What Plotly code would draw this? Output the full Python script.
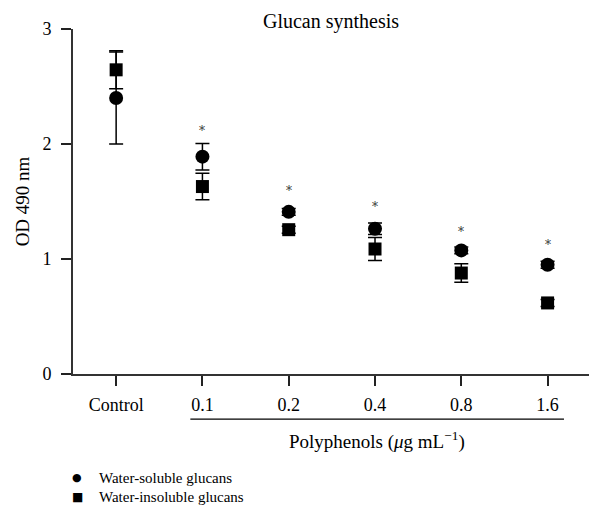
import plotly.graph_objects as go

categories = ["Control", "0.1", "0.2", "0.4", "0.8", "1.6"]
soluble = [2.40, 1.89, 1.41, 1.263, 1.075, 0.95]
soluble_err = [0.40, 0.115, 0.03, 0.05, 0.03, 0.03]
insoluble = [2.645, 1.63, 1.255, 1.087, 0.878, 0.618]
insoluble_err = [0.165, 0.115, 0.03, 0.10, 0.08, 0.03]
star_y = [None, 2.12, 1.60, 1.46, 1.24, 1.13]
y_ticks = [0, 1, 2, 3]
series_names = ["Water-soluble glucans", "Water-insoluble glucans"]

FONT = "Liberation Serif"
xi = list(range(len(categories)))

fig = go.Figure()
fig.add_trace(go.Scatter(
    x=xi, y=soluble, mode="markers", name=series_names[0],
    marker=dict(symbol="circle", size=14, color="black"),
    error_y=dict(type="data", array=soluble_err, color="black", thickness=1.5, width=7),
))
fig.add_trace(go.Scatter(
    x=xi, y=insoluble, mode="markers", name=series_names[1],
    marker=dict(symbol="square", size=13, color="black"),
    error_y=dict(type="data", array=insoluble_err, color="black", thickness=1.5, width=7),
))

for x, s in zip(xi, star_y):
    if s is not None:
        fig.add_annotation(x=x, y=s, xref="x", yref="y", text="*", showarrow=False,
                           font=dict(family="DejaVu Serif", size=12, color="#333"),
                           yanchor="middle", yshift=-1)

# bracket line under concentrations
fig.add_shape(type="line", xref="x", yref="paper", x0=0.86, x1=5.19, y0=-0.131, y1=-0.131,
              line=dict(color="black", width=1.3))
fig.add_annotation(x=3.02, y=-0.193, xref="x", yref="paper",
                   text="Polyphenols (<i>μ</i>g mL<sup>−1</sup>)", showarrow=False,
                   font=dict(family=FONT, size=19, color="black"), yanchor="middle")

# legend drawn as text rows
row_y = [(374.4 - 478.5) / 345.4, (374.4 - 497.5) / 345.4]
fig.add_annotation(x=0.008, y=row_y[0], xref="paper", yref="paper",
                   text="●", showarrow=False, xanchor="center", yanchor="middle",
                   font=dict(family="DejaVu Sans", size=11, color="black"))
fig.add_annotation(x=(97 - 72.7) / 516.3, y=row_y[0], xref="paper", yref="paper",
                   text=series_names[0], showarrow=False, xanchor="left", yanchor="middle",
                   font=dict(family=FONT, size=15, color="black"))
fig.add_annotation(x=0.008, y=row_y[1], xref="paper", yref="paper",
                   text="■", showarrow=False, xanchor="center", yanchor="middle",
                   font=dict(family="DejaVu Sans", size=12, color="black"))
fig.add_annotation(x=(97 - 72.7) / 516.3, y=row_y[1], xref="paper", yref="paper",
                   text=series_names[1], showarrow=False, xanchor="left", yanchor="middle",
                   font=dict(family=FONT, size=15, color="black"))

fig.update_layout(
    template="none",
    width=589, height=508,
    margin=dict(l=73, r=0, t=29, b=134, pad=0),
    paper_bgcolor="white", plot_bgcolor="white",
    font=dict(family=FONT, size=18, color="black"),
    title=dict(text="Glucan synthesis", x=0.5, xref="paper", xanchor="center",
               y=1 - 21 / 508, yref="container", yanchor="middle",
               font=dict(family=FONT, size=20, color="black")),
    showlegend=False,
)
fig.update_xaxes(range=[-0.5, 5.48], tickmode="array", tickvals=xi, ticktext=categories,
                 showgrid=False, zeroline=False, showline=True, linecolor="#333", linewidth=2,
                 ticks="outside", ticklen=10, tickwidth=1.5, tickcolor="#222",
                 ticklabelstandoff=3,
                 tickfont=dict(family=FONT, size=18, color="black"))
fig.update_yaxes(range=[0, 3], tickmode="array", tickvals=y_ticks, showgrid=False, zeroline=False,
                 showline=True, linecolor="#333", linewidth=2,
                 ticks="outside", ticklen=10, tickwidth=1.5, tickcolor="#222",
                 ticklabelstandoff=6,
                 tickfont=dict(family=FONT, size=18, color="black"),
                 title=dict(text="OD 490 nm", standoff=8, font=dict(family=FONT, size=19, color="black")))

fig.write_html("out.html", config={"displayModeBar": False},
               post_script="document.body.style.margin='0';")
